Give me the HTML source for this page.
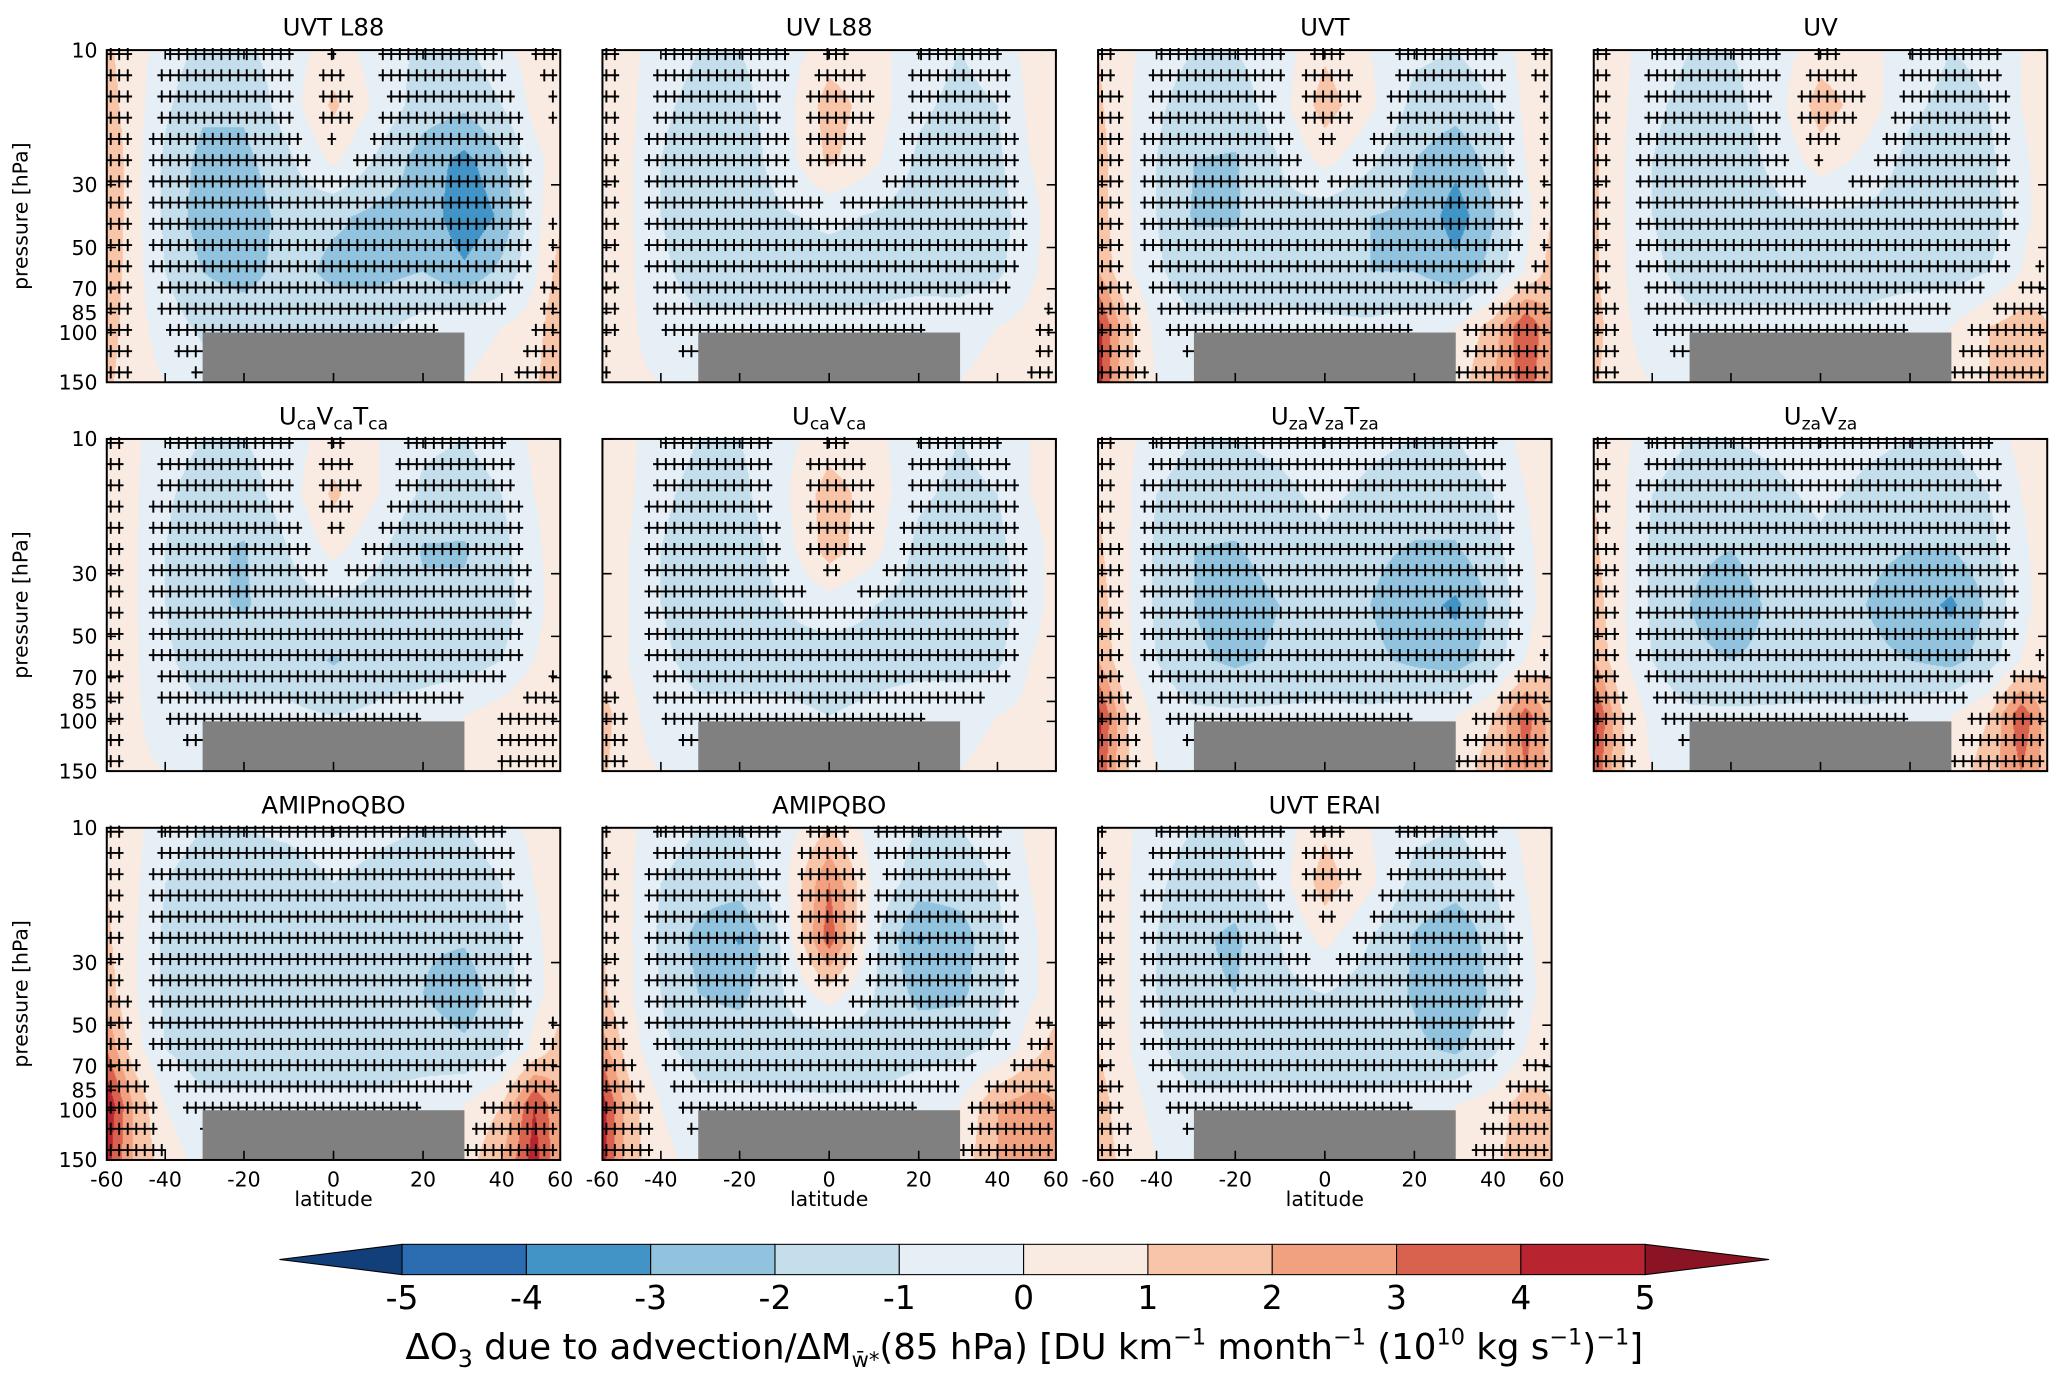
<!DOCTYPE html>
<html><head><meta charset="utf-8">
<style>
html,body{margin:0;padding:0;background:#fff;}
#wrap{position:absolute;left:0;top:0;width:1568px;height:1053px;transform:scale(1.31824,1.31814);transform-origin:0 0;overflow:hidden;}
canvas{position:absolute;}
svg{position:absolute;left:0;top:0;}
text{font-family:"DejaVu Sans","Liberation Sans",sans-serif;fill:#000;}
</style></head>
<body>
<div id="wrap">
<svg id="ov" width="1568" height="1053" viewBox="0 0 1568 1053"></svg>
</div>
<script>
// ---- data ----
const panelTitles = ["UVT L88","UV L88","UVT","UV","UcaVcaTca","UcaVca","UzaVzaTza","UzaVza","AMIPnoQBO","AMIPQBO","UVT ERAI"];
const latGrid = [-60,-50,-40,-30,-20,-10,0,10,20,30,40,50,60];
const presGrid = [10,15.7,24.7,38.7,60.8,95.5,150];
const yTicks = [10,30,50,70,85,100,150];
const xTicks = [-60,-40,-20,0,20,40,60];
const cbLevels = [-5,-4,-3,-2,-1,0,1,2,3,4,5];
const cbColors = ["#123f7a","#2c6db2","#4394c6","#91c3de","#c4deec","#e6eff5","#f9ebe2","#f9c5a9","#f1a17f","#d8624e","#b8242f","#8a1424"];
const fUVTL88 = [
[1.2,0.5,-0.5,-1.2,-1.2,-0.5,0.5,-0.5,-1.2,-1.2,-0.3,0.5,0.8],
[1.5,0.5,-0.8,-1.8,-1.8,-0.5,1.2,-0.3,-1.5,-1.8,-1,0.3,0.6],
[2,0.5,-1.2,-2.3,-2.3,-1.2,0.2,-1.2,-2.5,-3.3,-2.2,-0.3,0.5],
[2,0.5,-1.2,-2.5,-2.8,-1.5,-1.8,-2.3,-2.3,-3.8,-2.8,-0.3,0.8],
[1.8,0.5,-1,-2,-2.5,-1.5,-2.3,-2.3,-2,-2.8,-1.7,-0.2,1.5],
[1.5,0.5,-0.5,-1.2,-1.2,-1.2,-1.2,-1.2,-0.6,-0.3,0,0.5,2],
[1.2,0.5,0,-0.5,-0.5,-0.5,-0.5,-0.5,-0.3,0,0.3,0.8,2]];
const fUVL88 = [
[0.8,0.3,-0.5,-1,-1,-0.5,0.5,0.3,-0.5,-1,-0.5,0.3,0.5],
[0.8,0.3,-0.8,-1.3,-1.3,-0.5,1.5,0.5,-0.8,-1.3,-1,0.2,0.5],
[1,0.2,-1,-1.6,-1.6,-0.5,1.2,0.2,-1.2,-1.6,-1.2,0,0.5],
[1,0.2,-1,-1.6,-1.6,-1.1,-0.8,-1.1,-1.6,-2,-1.5,-0.3,0.5],
[0.8,0.2,-0.8,-1.4,-1.4,-1.3,-1.4,-1.3,-1.4,-1.6,-1.2,-0.2,0.5],
[0.8,0.2,-0.5,-0.8,-0.8,-0.8,-0.8,-0.8,-0.5,-0.3,0,0.3,0.8],
[0.5,0.2,0,-0.3,-0.3,-0.3,-0.3,-0.3,-0.2,0,0.3,0.5,0.8]];
const fUVT = [
[1,0.3,-0.5,-1,-1,-0.5,0.8,0,-0.8,-1,-0.5,0.3,0.8],
[1.2,0.3,-0.8,-1.5,-1.5,-0.5,1.5,0.2,-1.3,-1.6,-1,0.2,0.8],
[1.5,0.3,-1,-2,-2.1,-1,0.3,-0.8,-2,-2.7,-1.6,0,1],
[1.5,0.3,-1,-2.1,-2.1,-1.3,-1.6,-2,-2.2,-3.5,-2.1,-0.3,1],
[2,0.3,-0.8,-1.6,-1.6,-1.3,-1.6,-2,-2,-2.7,-1.6,0,1.5],
[4.5,1.5,-0.3,-0.8,-0.8,-0.8,-0.8,-0.8,-0.5,0,1.5,4,2],
[4.5,1.5,0,-0.3,-0.3,-0.3,-0.3,-0.3,0,0.5,2,3.5,2]];
const fUV = [
[0.8,0.3,-0.5,-1,-1,-0.5,0.5,0.3,-0.5,-1,-0.8,0,0.5],
[1,0.3,-0.8,-1.3,-1.3,-0.5,1.5,0.5,-0.8,-1.3,-1,0,0.5],
[1.2,0.2,-1,-1.5,-1.5,-0.8,0.5,-0.3,-1.3,-1.5,-1.2,-0.2,0.5],
[1.2,0.2,-1,-1.5,-1.5,-1.2,-1.2,-1.2,-1.5,-1.8,-1.5,-0.3,0.5],
[1.2,0.2,-0.8,-1.3,-1.3,-1.3,-1.3,-1.3,-1.3,-1.5,-1,0,0.8],
[1.5,0.3,-0.5,-0.8,-0.8,-0.8,-0.8,-0.8,-0.5,0,1,1.5,1],
[1.2,0.3,0,-0.3,-0.3,-0.3,-0.3,-0.3,0,0.5,1,1.5,1]];
const fUcaVcaTca = [
[0.8,0.2,-0.5,-1,-1,-0.5,0.5,0,-0.8,-1,-0.5,0.2,0.5],
[1,0.2,-0.8,-1.5,-1.5,-0.5,1.2,0,-1.2,-1.5,-1,0,0.5],
[1,0.2,-1,-1.8,-2.1,-1,0.3,-0.8,-2.1,-2.1,-1.3,-0.2,0.5],
[1,0.2,-1,-1.8,-2.1,-1.5,-1.2,-1.5,-1.8,-1.8,-1.5,-0.3,0.5],
[1,0.2,-0.8,-1.5,-1.5,-1.5,-2.1,-1.5,-1.5,-1.5,-1,0,0.5],
[1,0.2,-0.5,-0.8,-0.8,-0.8,-1,-0.8,-0.5,0,0.5,1,0.8],
[0.8,0.2,0,-0.3,-0.3,-0.3,-0.3,-0.3,0,0.3,0.5,0.8,0.5]];
const fUcaVca = [
[0.5,0.2,-0.5,-1,-1,-0.3,0.5,0.2,-0.5,-1,-0.5,0,0.5],
[0.5,0.2,-0.8,-1.3,-1.3,-0.2,1.5,0.5,-0.8,-1.3,-1,0,0.3],
[0.5,0,-1,-1.5,-1.7,-0.5,1.5,0.3,-1.3,-1.7,-1.3,-0.3,0.3],
[0.5,0,-1,-1.5,-1.5,-1,-0.5,-1,-1.5,-2,-1.5,-0.3,0.3],
[0.5,0,-0.8,-1.3,-1.3,-1.3,-1.5,-1.3,-1.3,-1.5,-1.2,0,0.3],
[1.5,0.3,-0.5,-0.8,-0.8,-0.8,-1,-0.8,-0.5,-0.2,0,0.3,0.3],
[1.2,0.3,0,-0.3,-0.3,-0.3,-0.3,-0.3,0,0,0.2,0.3,0.3]];
const fUzaVzaTza = [
[0.8,0.3,-0.5,-1,-1,-0.8,-0.5,-0.8,-1,-1,-0.5,0.3,0.5],
[1,0.3,-1,-1.5,-1.5,-1.2,-0.8,-1.2,-1.5,-1.5,-1,0,0.5],
[1.2,0.3,-1.2,-2,-2.1,-1.5,-1.2,-1.8,-2.1,-2.1,-1.3,-0.2,0.5],
[1.5,0.3,-1.2,-2,-2.6,-2,-1.5,-2,-2.6,-3.2,-1.8,-0.3,0.5],
[2,0.3,-1,-1.8,-2.2,-1.8,-1.5,-1.8,-2.2,-2.5,-1.5,0,0.8],
[4.5,1.2,-0.3,-0.8,-0.8,-0.8,-0.8,-0.8,-0.5,0,1,3.5,1.5],
[4,1.2,0,-0.3,-0.3,-0.3,-0.3,-0.3,0,0.5,1.5,3,1.5]];
const fUzaVza = [
[0.8,0.3,-0.5,-1,-1,-0.8,-0.5,-0.8,-1,-1,-0.5,0.3,0.5],
[1,0.3,-1,-1.5,-1.5,-1.2,-0.8,-1.2,-1.5,-1.5,-1,0,0.5],
[1.2,0.3,-1.2,-1.8,-2,-1.5,-1.2,-1.8,-2,-2,-1.3,-0.2,0.5],
[1.5,0.3,-1.2,-2,-2.5,-1.8,-1.5,-2,-2.5,-3.2,-1.8,-0.3,0.5],
[2,0.3,-1,-1.8,-2,-1.8,-1.5,-1.8,-2,-2.3,-1.5,0,0.8],
[4.5,1.2,-0.3,-0.8,-0.8,-0.8,-0.8,-0.8,-0.5,0,1,3.8,1.5],
[4,1.2,0,-0.3,-0.3,-0.3,-0.3,-0.3,0,0.5,1.5,3,1.5]];
const fAMIPnoQBO = [
[0.8,0.3,-0.5,-1,-1,-0.8,-0.5,-0.8,-1,-1,-0.5,0.3,0.5],
[1,0.3,-1,-1.5,-1.5,-1.5,-1,-1.3,-1.5,-1.5,-1,0,0.5],
[1.2,0.2,-1.2,-1.8,-1.9,-1.9,-1.5,-1.5,-1.9,-1.9,-1.3,-0.2,0.5],
[1.5,0.2,-1.2,-1.8,-1.9,-1.9,-1.8,-1.8,-2,-2.5,-1.5,-0.3,0.5],
[3,0.5,-1,-1.5,-1.5,-1.5,-1.5,-1.5,-1.5,-1.8,-1.2,0.3,1.5],
[5,2,0,-0.8,-0.8,-0.8,-0.8,-0.8,-0.5,0,1,4,2],
[4.5,2,0.5,-0.3,-0.3,-0.3,-0.3,-0.3,0,0.5,2,4.5,2]];
const fAMIPQBO = [
[0.5,0.2,-0.5,-1,-1,-0.5,1,-0.5,-1,-1,-0.5,0.2,0.5],
[0.8,0.2,-1,-1.5,-1.5,-0.3,3,-0.3,-1.5,-1.5,-1,0,0.5],
[1,0.2,-1.2,-2.3,-3.1,-0.8,3.6,-0.8,-3.1,-2.5,-1.2,-0.2,0.5],
[1.2,0.2,-1,-2,-2.3,-1,0.5,-1,-2.3,-2.2,-1.2,-0.2,0.5],
[2.5,0.5,-0.8,-1.3,-1.3,-1.5,-1.8,-1.5,-1.3,-1.3,-0.8,0.5,1.5],
[4.5,1.5,0,-0.8,-0.8,-0.8,-0.8,-0.8,-0.5,0,2,2.5,2],
[4.5,1.5,0.3,-0.3,-0.3,-0.3,-0.3,-0.3,0,0.5,2,2.5,2]];
const fUVTERAI = [
[0.5,0.2,-0.5,-1,-1,-0.5,0.8,0,-0.8,-1,-0.5,0.2,0.5],
[0.8,0.2,-0.8,-1.5,-1.5,-0.5,1.5,0.2,-1.3,-1.5,-1,0,0.5],
[1,0.2,-1,-1.8,-2.2,-1,0.3,-1,-2.1,-2.9,-1.5,-0.2,0.5],
[1,0.2,-1,-1.8,-2,-1.3,-1,-1.5,-2.1,-2.9,-1.8,-0.3,0.5],
[1,0.2,-0.8,-1.5,-1.5,-1.3,-1.5,-1.5,-1.8,-2.2,-1.2,0,0.8],
[1.5,0.5,-0.3,-0.8,-0.8,-0.8,-0.8,-0.8,-0.5,0,0.5,1.5,1],
[1.5,0.8,0,-0.3,-0.3,-0.3,-0.3,-0.3,0,0.3,0.8,1.5,1]];
const fields = [fUVTL88,fUVL88,fUVT,fUV,fUcaVcaTca,fUcaVca,fUzaVzaTza,fUzaVza,fAMIPnoQBO,fAMIPQBO,fUVTERAI];

// ---- layout ----
const colX = [81,457,833,1209], rowY = [38,333,628], PW = 344, PH = 252;
const SC = 1.3182;
const NS = "http://www.w3.org/2000/svg";
const ov = document.getElementById('ov');
const wrap = document.getElementById('wrap');
function mk(tag, attrs, parent){const e=document.createElementNS(NS,tag);for(const k in attrs)e.setAttribute(k,attrs[k]);(parent||ov).appendChild(e);return e;}
const S60 = Math.sin(60*Math.PI/180);
function xOf(lat){return PW/2 + (PW/2)*Math.sin(lat*Math.PI/180)/S60;}
function yOf(p){return PH*Math.log(p/10)/Math.log(15);}
function latOfX(x){let u=(x-PW/2)/(PW/2)*S60;u=Math.max(-1,Math.min(1,u));return Math.asin(u)*180/Math.PI;}
function pOfY(y){return 10*Math.pow(15,y/PH);}
function valueAt(f, lat, p){
  let c=(lat-latGrid[0])/10; c=Math.max(0,Math.min(latGrid.length-1.0001,c));
  const lp=Math.log(p), l0=Math.log(presGrid[0]), l1=Math.log(presGrid[presGrid.length-1]);
  let r=(lp-l0)/(l1-l0)*(presGrid.length-1); r=Math.max(0,Math.min(presGrid.length-1.0001,r));
  const c0=Math.floor(c), r0=Math.floor(r), fc=c-c0, fr=r-r0;
  const a=f[r0][c0]*(1-fc)+f[r0][c0+1]*fc, b=f[r0+1][c0]*(1-fc)+f[r0+1][c0+1]*fc;
  return a*(1-fr)+b*fr;
}
function hex(h){return [parseInt(h.slice(1,3),16),parseInt(h.slice(3,5),16),parseInt(h.slice(5,7),16)];}
const cbRGB = cbColors.map(hex);
function bandIdx(v){let i=0;while(i<cbLevels.length && v>=cbLevels[i])i++;return i;}

fields.forEach((f,k)=>{
  const col=k%4,row=Math.floor(k/4),X=colX[col],Y=rowY[row];
  const cv=document.createElement('canvas');
  const W=Math.round(PW*SC),H=Math.round(PH*SC);
  cv.width=W;cv.height=H;
  cv.style.left=X+'px';cv.style.top=Y+'px';cv.style.width=PW+'px';cv.style.height=PH+'px';
  
  
  wrap.insertBefore(cv,ov);
  const ctx=cv.getContext('2d');const img=ctx.createImageData(W,H);
  for(let j=0;j<H;j++){const p=pOfY((j+0.5)/H*PH);
    for(let i=0;i<W;i++){const lat=latOfX((i+0.5)/W*PW);
      const c=cbRGB[bandIdx(valueAt(f,lat,p))];const o=(j*W+i)*4;
      img.data[o]=c[0];img.data[o+1]=c[1];img.data[o+2]=c[2];img.data[o+3]=255;}}
  ctx.putImageData(img,0,0);
  const g=mk('g',{transform:`translate(${X},${Y})`});
  
  
  let d='';
  for(let r=0;r<16;r++){const yy=3+r*16.1;const p=pOfY(yy);
    for(let c=0;c<53;c++){const xx=3+c*6.45;const v=valueAt(f,latOfX(xx),p);
      if(Math.abs(v)>=0.45){d+=`M${(xx-3.3).toFixed(1)} ${yy.toFixed(1)}h6.6M${xx.toFixed(1)} ${(yy-4.6).toFixed(1)}v9.2`;}}}
  const cr=mk('path',{d:d,stroke:'#000','stroke-width':1.45,fill:'none'},g);
  
  
  const gx=xOf(-30),gy=yOf(100);
  const gr=mk('rect',{x:gx,y:gy,width:xOf(30)-gx,height:PH-gy,fill:'#808080'},g);
  
  
  let td='';
  xTicks.forEach(t=>{const x=xOf(t);td+=`M${x} 0v7M${x} ${PH}v-7`;});
  yTicks.forEach(t=>{const y=yOf(t);td+=`M0 ${y}h7M${PW} ${y}h-7`;});
  const tk=mk('path',{d:td,stroke:'#000','stroke-width':1.2,fill:'none'},g);
  
  
  const fr=mk('rect',{x:0,y:0,width:PW,height:PH,fill:'none',stroke:'#000','stroke-width':1.5},g);
  
  
  const tt=mk('text',{x:PW/2,y:-11,'text-anchor':'middle','font-size':18.5},g);
  
  
  const m=panelTitles[k].match(/^U(ca|za)V\1(T\1)?$/);
  if(m){const s=m[1];const parts=m[2]?['U','V','T']:['U','V'];
    parts.forEach(L=>{const a=mk('tspan',{'font-size':18.5,'dy':0},tt);a.textContent=L;const b=mk('tspan',{'font-size':13,dy:4},tt);b.textContent=s;const c2=mk('tspan',{dy:-4,'font-size':18.5},tt);c2.textContent='\u200b';});
  } else tt.textContent=panelTitles[k];
  if(col===0){
    yTicks.forEach(t=>{const e=mk('text',{x:-7,y:yOf(t)+5.5,'text-anchor':'end','font-size':15.5},g);e.textContent=t;
      
      });
    const yl=mk('text',{transform:`translate(-60,${PH/2}) rotate(-90)`,'text-anchor':'middle','font-size':15.5},g);
    yl.textContent='pressure [hPa]';
    
    
  }
  if(row===2){
    xTicks.forEach(t=>{const e=mk('text',{x:xOf(t),y:PH+20,'text-anchor':'middle','font-size':15.5},g);e.textContent=t;
      
      });
    const xl=mk('text',{x:PW/2,y:PH+35,'text-anchor':'middle','font-size':15.5},g);
    xl.textContent='latitude';
    
    
  }
});

// ---- colorbar ----
const cbX0=305,cbX1=1248,cbY0=944,cbY1=967,cbStep=(cbX1-cbX0)/(cbLevels.length-1);
const cb=mk('g',{});


const lt=mk('polygon',{points:`${cbX0},${cbY0} ${cbX0},${cbY1} 212,${(cbY0+cbY1)/2}`,fill:cbColors[0],stroke:'#000','stroke-width':0.8},cb);


const rt=mk('polygon',{points:`${cbX1},${cbY0} ${cbX1},${cbY1} 1342,${(cbY0+cbY1)/2}`,fill:cbColors[cbColors.length-1],stroke:'#000','stroke-width':0.8},cb);


for(let i=0;i<cbLevels.length-1;i++){
  const r=mk('rect',{x:cbX0+i*cbStep,y:cbY0,width:cbStep,height:cbY1-cbY0,fill:cbColors[i+1],stroke:'#000','stroke-width':0.8},cb);
  
  
}
cbLevels.forEach((v,i)=>{const e=mk('text',{x:cbX0+i*cbStep,y:993,'text-anchor':'middle','font-size':25},cb);e.textContent=v;
  
  });
const cl=mk('text',{x:777,y:1031,'text-anchor':'middle','font-size':27},cb);


cl.innerHTML='ΔO<tspan font-size="18" dy="6">3</tspan><tspan dy="-6"> due to advection/ΔM</tspan><tspan font-size="16" dy="6">w̄*</tspan><tspan dy="-6">(85 hPa) [DU km</tspan><tspan font-size="17" dy="-11">−1</tspan><tspan dy="11"> month</tspan><tspan font-size="17" dy="-11">−1</tspan><tspan dy="11"> (10</tspan><tspan font-size="17" dy="-11">10</tspan><tspan dy="11"> kg s</tspan><tspan font-size="17" dy="-11">−1</tspan><tspan dy="11">)</tspan><tspan font-size="17" dy="-11">−1</tspan><tspan dy="11">]</tspan>';
</script>
</body></html>
